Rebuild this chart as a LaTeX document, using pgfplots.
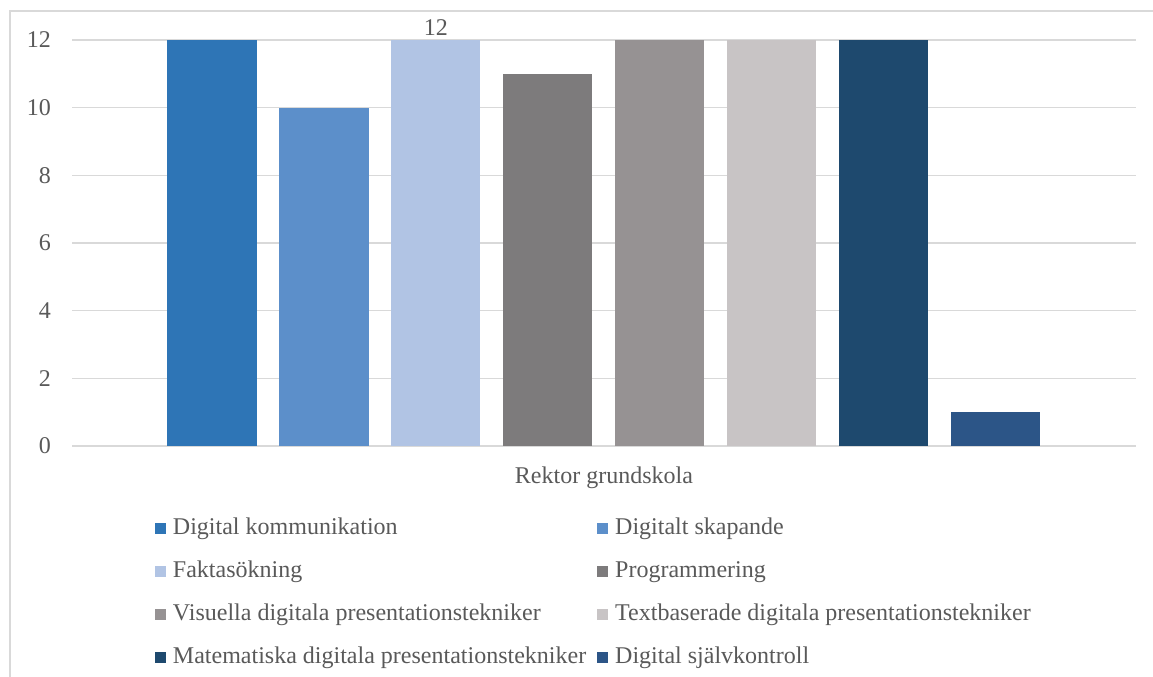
\documentclass[border=0pt]{standalone}
\usepackage{pgfplots}
\pgfplotsset{compat=1.18}
\usepackage{fontspec}
\setmainfont{Liberation Serif}

\definecolor{txt}{HTML}{595959}
\definecolor{gridc}{HTML}{D9D9D9}
\definecolor{c1}{RGB}{46,117,182}
\definecolor{c2}{RGB}{92,143,202}
\definecolor{c3}{RGB}{177,196,228}
\definecolor{c4}{RGB}{125,123,124}
\definecolor{c5}{RGB}{150,146,147}
\definecolor{c6}{RGB}{200,196,197}
\definecolor{c7}{RGB}{30,73,110}
\definecolor{c8}{RGB}{44,85,135}

\begin{document}
\begin{tikzpicture}
\fontsize{24bp}{28bp}\selectfont
\useasboundingbox (0,0) rectangle (1153bp,677bp);
% chart frame (top and left edges)
\draw[gridc, line width=1.5bp] (10bp,0) -- (10bp,666bp) -- (1153bp,666bp);
\begin{axis}[
  at={(72bp,231bp)}, anchor=south west,
  width=1064bp, height=406bp, scale only axis,
  xmin=-0.25, xmax=9.25, ymin=0, ymax=12,
  ytick={0,2,...,12},
  xtick={4.5}, xticklabels={Rektor grundskola},
  ymajorgrids, grid style={gridc, line width=1.5bp},
  axis line style={draw=none},
  major tick length=0pt,
  tick label style={font=\fontsize{24bp}{28bp}\selectfont, text=txt},
  /pgf/number format/assume math mode=true,
  yticklabel style={anchor=east, inner sep=0pt, xshift=-21bp},
  xticklabel style={anchor=base, inner sep=0pt, yshift=-37bp},
  every axis plot/.append style={ybar, bar width=0.795, bar shift=0pt, draw=none,
    legend image code/.code={\fill[##1] (0bp,0.5bp) rectangle (11bp,11.5bp);}},
  legend columns=2,
  legend style={at={(0.078,-0.1773)}, anchor=north west, draw=none, fill=none,
    inner sep=0pt, outer sep=0pt, row sep=20bp,
    font=\fontsize{24bp}{28bp}\selectfont, text=txt,
    cells={anchor=base west},
    nodes={inner sep=0pt, text height=17bp, text depth=6bp},
    /tikz/every odd column/.append style={column sep=7bp},
    /tikz/every even column/.append style={column sep=11bp}},
]
\addplot[fill=c1] coordinates {(1,12)};
\addlegendentry{Digital kommunikation}
\addplot[fill=c2] coordinates {(2,10)};
\addlegendentry{Digitalt skapande}
\addplot[fill=c3, nodes near coords,
  every node near coord/.append style={font=\fontsize{24bp}{28bp}\selectfont, text=txt, anchor=south, inner sep=0pt, yshift=4bp},
  /pgf/number format/assume math mode=true] coordinates {(3,12)};
\addlegendentry{Faktasökning}
\addplot[fill=c4] coordinates {(4,11)};
\addlegendentry{Programmering}
\addplot[fill=c5] coordinates {(5,12)};
\addlegendentry{Visuella digitala presentationstekniker}
\addplot[fill=c6] coordinates {(6,12)};
\addlegendentry{Textbaserade digitala presentationstekniker}
\addplot[fill=c7] coordinates {(7,12)};
\addlegendentry{Matematiska digitala presentationstekniker}
\addplot[fill=c8] coordinates {(8,1)};
\addlegendentry{Digital självkontroll}
\end{axis}
\end{tikzpicture}
\end{document}
